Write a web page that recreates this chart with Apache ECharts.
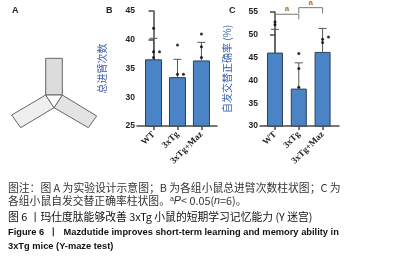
<!DOCTYPE html>
<html>
<head>
<meta charset="utf-8">
<script src="https://cdn.jsdelivr.net/npm/echarts@6/dist/echarts.min.js"></script>
<style>
html, body { margin: 0; padding: 0; background: #fff; }
#chart { width: 399px; height: 263px; }
</style>
</head>
<body>
<div id="chart"></div>
<script>
// 组别
const groups = ['WT', '3xTg', '3xTg+Maz'];

// B: 总进臂次数
const armMean = [36.6, 33.5, 36.4];
const armSd = [3.65, 3.1, 3.15];
const armDots = [[0, 42.0], [0, 37.9], [0.25, 37.9], [0, 36.9], [1, 39.1], [1, 34.0], [1.25, 34.0], [2, 41.0], [2, 38.8], [2, 36.9]];
const armTicks = { min: 25, max: 45, step: 5 };

// C: 自发交替正确率 (%)
const altMean = [46.1, 38.2, 46.25];
const altSd = [5.1, 5.65, 5.15];
const altDots = [[0, 52.8], [0, 52.2], [1, 45.9], [1, 42.6], [1, 38.5], [2.25, 49.5], [2, 49.0], [2, 48.3]];
const altTicks = { min: 30, max: 55, step: 5 };

// 显著性标记: [组1, 组2, 竖线底, 横线高]
const sigBrackets = [[0, 1, 53.4, 54.5], [1, 2, 54.7, 55.95]];

const barColor = '#4a84c6';
const axisColor = '#4a4a4a';

function withX(values) {
    return values.map(function (v, i) { return [i, v]; });
}
function withXSd(means, sds) {
    return means.map(function (v, i) { return [i, v, sds[i]]; });
}

function errorRender(params, api) {
    const x = api.value(0), m = api.value(1), s = api.value(2);
    const base = api.coord([x, m]);
    const top = api.coord([x, m + s]);
    const hw = 4;
    return {
        type: 'group',
        children: [
            { type: 'line', shape: { x1: base[0], y1: base[1], x2: top[0], y2: top[1] }, style: { stroke: '#555', lineWidth: 1 } },
            { type: 'line', shape: { x1: top[0] - hw, y1: top[1], x2: top[0] + hw, y2: top[1] }, style: { stroke: '#555', lineWidth: 1 } }
        ]
    };
}

function bracketRender(params, api) {
    const a = api.coord([api.value(0), api.value(2)]);
    const b = api.coord([api.value(0), api.value(3)]);
    const c = api.coord([api.value(1), api.value(3)]);
    const d = api.coord([api.value(1), api.value(2)]);
    return {
        type: 'group',
        children: [
            { type: 'polyline', shape: { points: [a, b, c, d] }, style: { stroke: '#777', lineWidth: 1, fill: null } },
            { type: 'text', x: (b[0] + c[0]) / 2, y: b[1] - 1,
              style: { text: 'a', fontSize: 8, fontWeight: 'bold', fill: '#a0783c', align: 'center', verticalAlign: 'bottom', fontFamily: 'Liberation Sans' } }
        ]
    };
}

function xAxisCfg(gridIndex, min, max) {
    return {
        type: 'value', gridIndex: gridIndex, min: min, max: max,
        splitLine: { show: false },
        axisLine: { show: true, onZero: false, lineStyle: { color: axisColor, width: 1.5 } },
        axisTick: { show: true, length: 4, customValues: [0, 1, 2], lineStyle: { color: axisColor, width: 1.5 } },
        axisLabel: {
            customValues: [0, 1, 2], rotate: 45, margin: 7,
            formatter: function (v) { return groups[Math.round(v)]; },
            fontFamily: 'Liberation Serif', fontWeight: 'bold', fontSize: 9, color: '#222'
        }
    };
}

function yAxisCfg(gridIndex, t, name, gap) {
    return {
        type: 'value', gridIndex: gridIndex, min: t.min, max: t.max, interval: t.step,
        name: name, nameLocation: 'middle', nameRotate: 90, nameGap: gap,
        nameTextStyle: { color: '#3b5ea8', fontSize: 10, fontFamily: 'Noto Sans CJK SC' },
        splitLine: { show: false },
        axisLine: { show: true, lineStyle: { color: axisColor, width: 1.5 } },
        axisTick: { show: true, length: 5, lineStyle: { color: axisColor, width: 1.5 } },
        axisLabel: { margin: 2, fontFamily: 'Liberation Sans', fontWeight: 'bold', fontSize: 8.5, color: '#222' }
    };
}

const chartDom = document.getElementById('chart');
const myChart = echarts.init(chartDom, null, { renderer: 'canvas' });

const captionStyle = { fontFamily: 'Noto Sans CJK SC', fontSize: 10.8, fill: '#333', verticalAlign: 'middle' };
const englishStyle = { fontFamily: 'Liberation Sans', fontWeight: 'bold', fontSize: 9.3, fill: '#111', verticalAlign: 'middle' };

const option = {
    backgroundColor: '#fff',
    animation: false,
    grid: [
        { left: 137, top: 11, width: 80, height: 115 },
        { left: 260, top: 12, width: 79, height: 114 }
    ],
    xAxis: [xAxisCfg(0, -0.69, 2.65), xAxisCfg(1, -0.63, 2.69)],
    yAxis: [yAxisCfg(0, armTicks, '总进臂次数', 30), yAxisCfg(1, altTicks, '自发交替正确率 (%)', 28)],
    series: [
        { type: 'bar', xAxisIndex: 0, yAxisIndex: 0, data: withX(armMean), barWidth: 17,
          itemStyle: { color: barColor, borderColor: '#2f3f52', borderWidth: 1 } },
        { type: 'custom', xAxisIndex: 0, yAxisIndex: 0, data: withXSd(armMean, armSd), renderItem: errorRender, z: 3 },
        { type: 'scatter', xAxisIndex: 0, yAxisIndex: 0, data: armDots, symbolSize: 3, itemStyle: { color: '#000' }, z: 4 },

        { type: 'bar', xAxisIndex: 1, yAxisIndex: 1, data: withX(altMean), barWidth: 16,
          itemStyle: { color: barColor, borderColor: '#2f3f52', borderWidth: 1 } },
        { type: 'custom', xAxisIndex: 1, yAxisIndex: 1, data: withXSd(altMean, altSd), renderItem: errorRender, z: 3 },
        { type: 'scatter', xAxisIndex: 1, yAxisIndex: 1, data: altDots, symbolSize: 3, itemStyle: { color: '#000' }, z: 4 },
        { type: 'custom', xAxisIndex: 1, yAxisIndex: 1, data: sigBrackets, renderItem: bracketRender, clip: false, z: 5 }
    ],
    graphic: [
        // 面板字母
        { type: 'text', left: 12, top: 6, style: { text: 'A', fontFamily: 'Liberation Sans', fontWeight: 'bold', fontSize: 9, fill: '#222' } },
        { type: 'text', left: 106, top: 6, style: { text: 'B', fontFamily: 'Liberation Sans', fontWeight: 'bold', fontSize: 9, fill: '#222' } },
        { type: 'text', left: 229, top: 6, style: { text: 'C', fontFamily: 'Liberation Sans', fontWeight: 'bold', fontSize: 9, fill: '#222' } },
        // Y 迷宫示意图
        { type: 'polygon', shape: { points: [[45.7, 58.3], [62.3, 58.3], [62.3, 95], [45.7, 95]] }, style: { fill: '#dcdcdc', stroke: '#666', lineWidth: 1 } },
        { type: 'polygon', shape: { points: [[45.7, 95], [54, 107.7], [20.7, 127.7], [11.7, 115]] }, style: { fill: '#efefef', stroke: '#666', lineWidth: 1 } },
        { type: 'polygon', shape: { points: [[62.3, 95], [54, 107.7], [88.3, 127.7], [96.7, 116]] }, style: { fill: '#e3e3e3', stroke: '#666', lineWidth: 1 } },
        { type: 'polygon', shape: { points: [[45.7, 95], [62.3, 95], [54, 107.7]] }, style: { fill: '#fff', stroke: '#666', lineWidth: 1 } },
        // 图注
        { type: 'text', x: 8, y: 188, style: Object.assign({ text: '图注：图 A 为实验设计示意图；B 为各组小鼠总进臂次数柱状图；C 为' }, captionStyle) },
        { type: 'text', x: 8, y: 201, style: Object.assign({
            text: '各组小鼠自发交替正确率柱状图。{sup|a}{i|P}< 0.05({i|n}=6)。',
            rich: {
                sup: { fontSize: 7, verticalAlign: 'top', fill: '#333', fontFamily: 'Liberation Sans' },
                i: { fontStyle: 'italic', fontSize: 10.8, fill: '#333', fontFamily: 'Liberation Sans' }
            }
        }, captionStyle) },
        { type: 'text', x: 8, y: 217, style: Object.assign({}, captionStyle, { text: '图 6 丨玛仕度肽能够改善 3xTg 小鼠的短期学习记忆能力 (Y 迷宫)', fill: '#111' }) },
        { type: 'text', x: 8, y: 232, style: Object.assign({ text: 'Figure 6  丨  Mazdutide improves short-term learning and memory ability in' }, englishStyle) },
        { type: 'text', x: 8, y: 246, style: Object.assign({ text: '3xTg mice (Y-maze test)' }, englishStyle) }
    ]
};

myChart.setOption(option);
window.addEventListener('resize', function () { myChart.resize(); });
</script>
</body>
</html>
